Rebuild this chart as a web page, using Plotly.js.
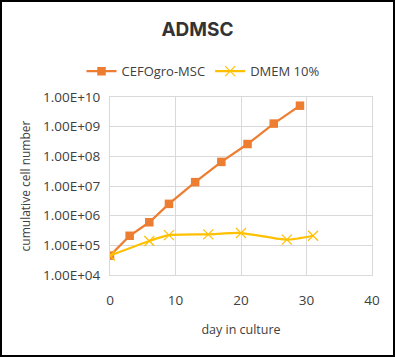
<!DOCTYPE html>
<html><head><meta charset="utf-8">
<script src="https://cdn.plot.ly/plotly-3.0.1.min.js"></script>
<style>
html,body{margin:0;padding:0;background:#fff;}
#wrap{position:relative;width:395px;height:357px;}
#chart{width:395px;height:357px;}
#frame{position:absolute;left:0;top:0;width:395px;height:357px;box-sizing:border-box;border:2px solid #000;pointer-events:none;}
</style></head>
<body>
<div id="wrap"><div id="chart"></div><div id="frame"></div></div>
<script>
const cefoDays = [0, 3, 6, 9, 13, 17, 21, 25, 29];
const cefoCells = [4.5e4, 2.1e5, 6.0e5, 2.5e6, 1.35e7, 6.5e7, 2.6e8, 1.27e9, 5.1e9];
const dmemDays = [0, 6, 9, 15, 20, 27, 31];
const dmemCells = [4.5e4, 1.4e5, 2.2e5, 2.35e5, 2.6e5, 1.55e5, 2.1e5];
const yTickVals = [1e4, 1e5, 1e6, 1e7, 1e8, 1e9, 1e10];
const yTickText = ["1.00E+04", "1.00E+05", "1.00E+06", "1.00E+07", "1.00E+08", "1.00E+09", "1.00E+10"];
const xTickVals = [0, 10, 20, 30, 40];

const font = "'Open Sans', 'Noto Sans', sans-serif";
const traces = [
  {x: cefoDays, y: cefoCells, name: "CEFOgro-MSC", type: "scatter", mode: "lines+markers",
   line: {color: "#ED7D31", width: 2.25}, marker: {symbol: "square", size: 8.5, color: "#ED7D31"}},
  {x: dmemDays, y: dmemCells, name: "DMEM 10%", type: "scatter", mode: "lines+markers",
   line: {color: "#FFC000", width: 2.25, shape: "spline", smoothing: 0.6},
   marker: {symbol: "x-thin-open", size: 10, line: {color: "#FFC000", width: 1.2}, color: "#FFC000"}}
];
const layout = {
  width: 395, height: 357,
  margin: {l: 110, r: 23, t: 97, b: 82, autoexpand: false},
  paper_bgcolor: "#fff", plot_bgcolor: "#fff",
  font: {family: font, color: "#595959", size: 12},
  title: {text: "<b>ADMSC</b>", x: 0.5, xanchor: "center", y: 0.918, yanchor: "middle",
          font: {family: "Inter, 'Open Sans', sans-serif", size: 19, color: "#333"}},
  showlegend: true,
  legend: {orientation: "h", x: 0.355, xanchor: "center", y: 1.145, yanchor: "middle",
           font: {family: font, size: 13, color: "#404040"}, itemwidth: 30, bgcolor: "rgba(0,0,0,0)"},
  xaxis: {range: [0, 40], tickvals: xTickVals, showgrid: true, gridcolor: "#d9d9d9", gridwidth: 1,
          zeroline: false, showline: true, linecolor: "#d9d9d9", mirror: true,
          ticks: "outside", ticklen: 13, tickcolor: "rgba(0,0,0,0)",
          tickfont: {family: font, size: 13.5, color: "#404040"},
          title: {text: "day in culture", standoff: 17, font: {family: font, size: 12.5, color: "#404040"}}},
  yaxis: {type: "log", range: [4, 10], tickvals: yTickVals, ticktext: yTickText,
          showgrid: true, gridcolor: "#d9d9d9", gridwidth: 1, zeroline: false,
          showline: true, linecolor: "#d9d9d9", mirror: true,
          ticks: "outside", ticklen: 6, tickcolor: "rgba(0,0,0,0)",
          tickfont: {family: font, size: 13.5, color: "#404040"},
          title: {text: "cumulative cell number", standoff: 9, font: {family: font, size: 12, color: "#404040"}}}
};
Plotly.newPlot("chart", traces, layout, {displayModeBar: false, staticPlot: true});
</script>
</body></html>
